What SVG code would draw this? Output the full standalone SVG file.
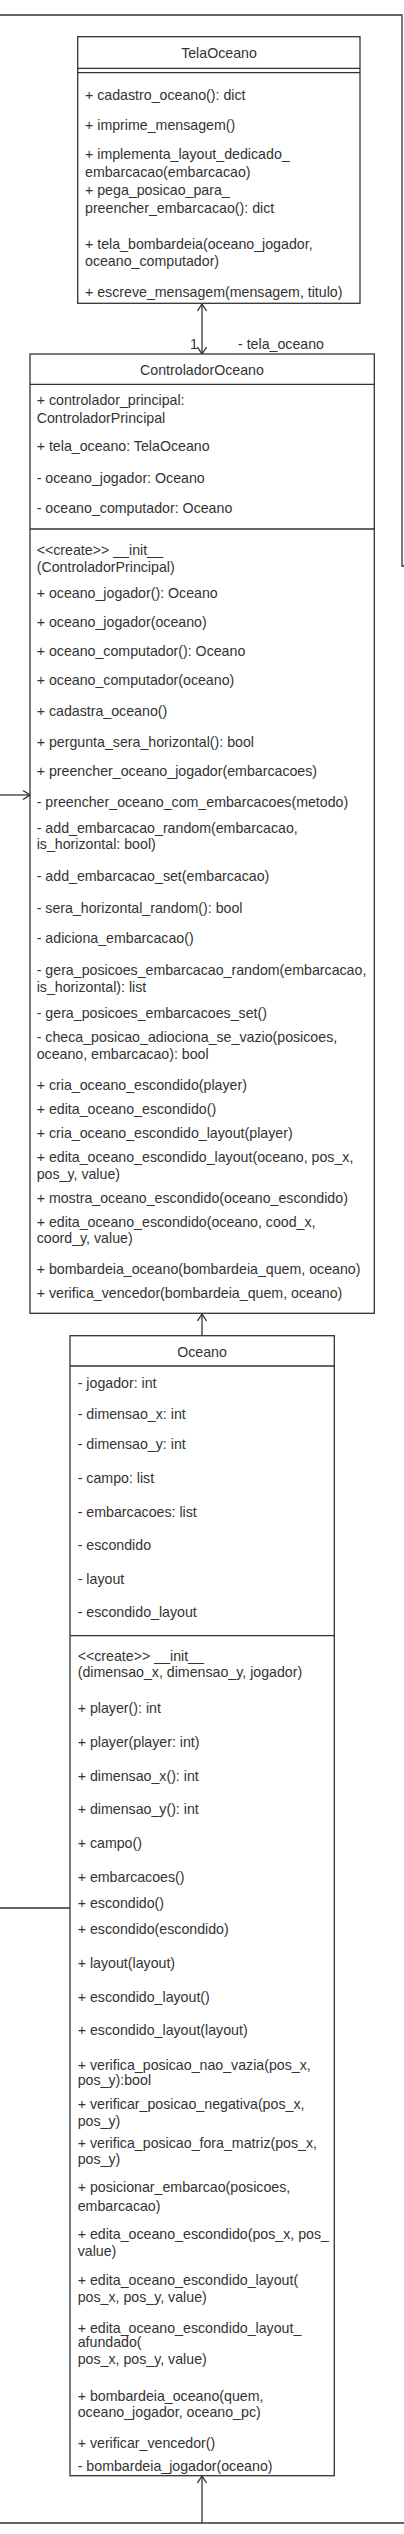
<svg xmlns="http://www.w3.org/2000/svg" width="404" height="2534" viewBox="0 0 404 2534">
<style>
text{font-family:"Liberation Sans",Arial,sans-serif;font-size:14.2px;fill:#333}
.t{text-anchor:middle}
.box{fill:#fff;stroke:#333;stroke-width:1.3}
.ln{stroke:#333;stroke-width:1.3;fill:none}
</style>
<defs>
<marker id="open" viewBox="0 0 10 10" refX="9.5" refY="5" markerWidth="10" markerHeight="10" markerUnits="userSpaceOnUse" orient="auto-start-reverse">
<path d="M2.5,0.5 L9.5,5 L2.5,9.5" fill="none" stroke="#333" stroke-width="1.3"/>
</marker>
</defs>
<rect width="404" height="2534" fill="#fff"/>
<g id="connectors">
<path class="ln" d="M0 15 H402 V566 H404"/>
<line class="ln" x1="0" y1="795" x2="30" y2="795" marker-end="url(#open)"/>
<line class="ln" x1="0" y1="1908" x2="70" y2="1908"/>
<line class="ln" x1="202" y1="304" x2="202" y2="354" marker-start="url(#open)" marker-end="url(#open)"/>
<text x="190" y="349">1</text>
<text x="238" y="349">- tela_oceano</text>
<line class="ln" x1="202" y1="1336" x2="202" y2="1314" marker-end="url(#open)"/>
<path class="ln" d="M0 2523 H404"/>
<line class="ln" x1="202" y1="2523" x2="202" y2="2476" marker-end="url(#open)"/>
</g>
<g id="TelaOceano">
<rect class="box" x="77.7" y="36.7" width="282.3" height="266.6"/>
<line class="ln" x1="77.7" y1="68.3" x2="360" y2="68.3"/>
<line class="ln" x1="77.7" y1="72.7" x2="360" y2="72.7"/>
<text class="t" x="219" y="58">TelaOceano</text>
<text x="85" y="99.5">+ cadastro_oceano(): dict</text>
<text x="85" y="130">+ imprime_mensagem()</text>
<text x="85" y="159.3">+ implementa_layout_dedicado_</text>
<text x="85" y="176.5">embarcacao(embarcacao)</text>
<text x="85" y="195">+ pega_posicao_para_</text>
<text x="85" y="212.5">preencher_embarcacao(): dict</text>
<text x="85" y="249">+ tela_bombardeia(oceano_jogador,</text>
<text x="85" y="266"> oceano_computador)</text>
<text x="85" y="296.5">+ escreve_mensagem(mensagem, titulo)</text>
</g>
<g id="ControladorOceano">
<rect class="box" x="30" y="354" width="344.3" height="959.3"/>
<line class="ln" x1="30" y1="384.3" x2="374.3" y2="384.3"/>
<line class="ln" x1="30" y1="529" x2="374.3" y2="529"/>
<text class="t" x="202" y="375">ControladorOceano</text>
<text x="36.7" y="405">+ controlador_principal:</text>
<text x="36.7" y="422.5">ControladorPrincipal</text>
<text x="36.7" y="451">+ tela_oceano: TelaOceano</text>
<text x="36.7" y="482.7">- oceano_jogador: Oceano</text>
<text x="36.7" y="513.3">- oceano_computador: Oceano</text>
<text x="36.7" y="555">&lt;&lt;create&gt;&gt; __init__</text>
<text x="36.7" y="571.7">(ControladorPrincipal)</text>
<text x="36.7" y="597.7">+ oceano_jogador(): Oceano</text>
<text x="36.7" y="626.7">+ oceano_jogador(oceano)</text>
<text x="36.7" y="655.7">+ oceano_computador(): Oceano</text>
<text x="36.7" y="685">+ oceano_computador(oceano)</text>
<text x="36.7" y="716">+ cadastra_oceano()</text>
<text x="36.7" y="746.7">+ pergunta_sera_horizontal(): bool</text>
<text x="36.7" y="776">+ preencher_oceano_jogador(embarcacoes)</text>
<text x="36.7" y="806.7">- preencher_oceano_com_embarcacoes(metodo)</text>
<text x="36.7" y="832.7">- add_embarcacao_random(embarcacao,</text>
<text x="36.7" y="849.3">is_horizontal: bool)</text>
<text x="36.7" y="880.7">- add_embarcacao_set(embarcacao)</text>
<text x="36.7" y="912.7">- sera_horizontal_random(): bool</text>
<text x="36.7" y="943.3">- adiciona_embarcacao()</text>
<text x="36.7" y="975">- gera_posicoes_embarcacao_random(embarcacao,</text>
<text x="36.7" y="991.7">is_horizontal): list</text>
<text x="36.7" y="1018.3">- gera_posicoes_embarcacoes_set()</text>
<text x="36.7" y="1041.7">- checa_posicao_adiociona_se_vazio(posicoes,</text>
<text x="36.7" y="1059">oceano, embarcacao): bool</text>
<text x="36.7" y="1090">+ cria_oceano_escondido(player)</text>
<text x="36.7" y="1114">+ edita_oceano_escondido()</text>
<text x="36.7" y="1137.7">+ cria_oceano_escondido_layout(player)</text>
<text x="36.7" y="1161.7">+ edita_oceano_escondido_layout(oceano, pos_x,</text>
<text x="36.7" y="1179">pos_y, value)</text>
<text x="36.7" y="1202.7">+ mostra_oceano_escondido(oceano_escondido)</text>
<text x="36.7" y="1226.7">+ edita_oceano_escondido(oceano, cood_x,</text>
<text x="36.7" y="1243.3">coord_y, value)</text>
<text x="36.7" y="1274.3">+ bombardeia_oceano(bombardeia_quem, oceano)</text>
<text x="36.7" y="1298.3">+ verifica_vencedor(bombardeia_quem, oceano)</text>
</g>
<g id="Oceano">
<rect class="box" x="70" y="1335.7" width="264.3" height="1140"/>
<line class="ln" x1="70" y1="1366" x2="334.3" y2="1366"/>
<line class="ln" x1="70" y1="1635.7" x2="334.3" y2="1635.7"/>
<text class="t" x="202" y="1356.7">Oceano</text>
<text x="77.7" y="1387.7">- jogador: int</text>
<text x="77.7" y="1419">- dimensao_x: int</text>
<text x="77.7" y="1449">- dimensao_y: int</text>
<text x="77.7" y="1483.3">- campo: list</text>
<text x="77.7" y="1516.7">- embarcacoes: list</text>
<text x="77.7" y="1550">- escondido</text>
<text x="77.7" y="1584">- layout</text>
<text x="77.7" y="1617.3">- escondido_layout</text>
<text x="77.7" y="1660.7">&lt;&lt;create&gt;&gt; __init__</text>
<text x="77.7" y="1677.3">(dimensao_x, dimensao_y, jogador)</text>
<text x="77.7" y="1713.3">+ player(): int</text>
<text x="77.7" y="1747.3">+ player(player: int)</text>
<text x="77.7" y="1780.7">+ dimensao_x(): int</text>
<text x="77.7" y="1814">+ dimensao_y(): int</text>
<text x="77.7" y="1848.3">+ campo()</text>
<text x="77.7" y="1881.7">+ embarcacoes()</text>
<text x="77.7" y="1908.3">+ escondido()</text>
<text x="77.7" y="1934.3">+ escondido(escondido)</text>
<text x="77.7" y="1968.3">+ layout(layout)</text>
<text x="77.7" y="2001.7">+ escondido_layout()</text>
<text x="77.7" y="2035">+ escondido_layout(layout)</text>
<text x="77.7" y="2070">+ verifica_posicao_nao_vazia(pos_x,</text>
<text x="77.7" y="2085"> pos_y):bool</text>
<text x="77.7" y="2109.3">+ verificar_posicao_negativa(pos_x,</text>
<text x="77.7" y="2125.7">pos_y)</text>
<text x="77.7" y="2148.3">+ verifica_posicao_fora_matriz(pos_x,</text>
<text x="77.7" y="2164.3">pos_y)</text>
<text x="77.7" y="2192.3">+ posicionar_embarcao(posicoes,</text>
<text x="77.7" y="2210.7">embarcacao)</text>
<text x="77.7" y="2239.3">+ edita_oceano_escondido(pos_x, pos_</text>
<text x="77.7" y="2256">value)</text>
<text x="77.7" y="2285">+ edita_oceano_escondido_layout(</text>
<text x="77.7" y="2301.7">pos_x, pos_y, value)</text>
<text x="77.7" y="2332.7">+ edita_oceano_escondido_layout_</text>
<text x="77.7" y="2347.3">afundado(</text>
<text x="77.7" y="2364">pos_x, pos_y, value)</text>
<text x="77.7" y="2400.7">+ bombardeia_oceano(quem,</text>
<text x="77.7" y="2417.3">oceano_jogador, oceano_pc)</text>
<text x="77.7" y="2448.3">+ verificar_vencedor()</text>
<text x="77.7" y="2470.7">- bombardeia_jogador(oceano)</text>
</g>
</svg>
